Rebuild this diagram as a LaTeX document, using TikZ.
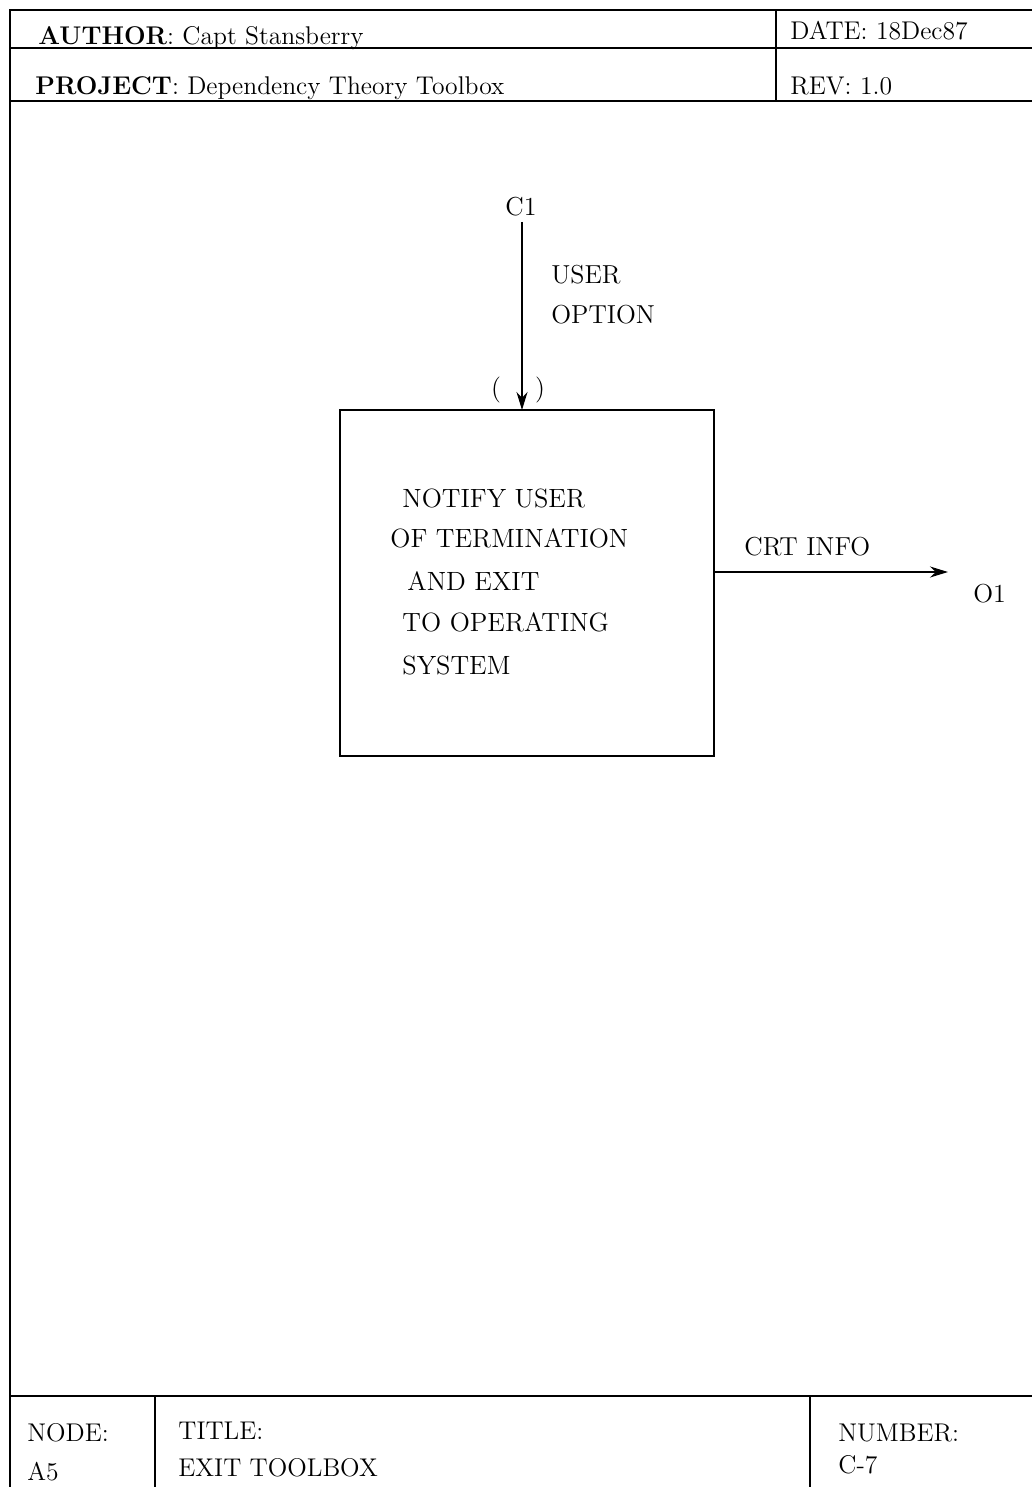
\documentclass[tikz,border=0pt]{standalone}
\usetikzlibrary{arrows.meta}
\begin{document}
\begin{tikzpicture}[x=0.5pt,y=-0.5pt,
  frame/.style={line width=1.1pt},
  hdr/.style={anchor=base west,inner sep=0pt,font=\fontsize{12.8}{14}\selectfont},
  lbl/.style={anchor=base west,inner sep=0pt,font=\fontsize{13}{15}\selectfont},
  boxtxt/.style={anchor=base west,inner sep=0pt,font=\fontsize{13.2}{15}\selectfont},
  flow/.style={line width=0.9pt,-{Stealth[length=9pt,width=5.5pt]}},
  actbox/.style={draw,line width=1.1pt,minimum width=187pt,minimum height=173pt,inner sep=0pt}]
\useasboundingbox (0,0) rectangle (1032,1487);

% sheet frame and header
\draw[frame] (1032,10) -- (10,10) -- (10,1487);
\draw[frame] (10,48) -- (1032,48);
\draw[frame] (10,101) -- (1032,101);
\draw[frame] (776,10) -- (776,101);
\node[hdr] (author) at (38,45) {\textbf{AUTHOR}: Capt Stansberry};
\node[hdr] (date) at (790,40) {DATE: 18Dec87};
\node[hdr] (project) at (35,95) {\textbf{PROJECT}: Dependency Theory Toolbox};
\node[hdr] (rev) at (790,95) {REV: 1.0};

% footer
\draw[frame] (10,1396) -- (1032,1396);
\draw[frame] (155,1396) -- (155,1487);
\draw[frame] (810,1396) -- (810,1487);
\node[hdr] (nodelbl) at (27,1441) {NODE:};
\node[hdr] (nodeval) at (27,1480) {A5};
\node[hdr] (titlelbl) at (178,1439) {TITLE:};
\node[hdr] (titleval) at (178,1476) {EXIT TOOLBOX};
\node[hdr] (numlbl) at (838,1441) {NUMBER:};
\node[hdr] (numval) at (838,1473) {C-7};

% activity box
\node[actbox] (act) at (527,583) {};
\node[boxtxt] (t1) at (402,507) {NOTIFY USER};
\node[boxtxt] (t2) at (390,547) {OF TERMINATION};
\node[boxtxt] (t3) at (407,590) {AND EXIT};
\node[boxtxt] (t4) at (402,631) {TO OPERATING};
\node[boxtxt] (t5) at (402,674) {SYSTEM};

% control arrow
\node[lbl,anchor=base] (c1) at (521,216) {C1};
\coordinate (ctop) at (522,222);
\coordinate (cin) at (522,410);
\draw[flow] (ctop) -- (cin);
\node[lbl] (uo1) at (551,284) {USER};
\node[lbl] (uo2) at (551,323) {OPTION};
\node[lbl,anchor=base] (pl) at (496,396) {(};
\node[lbl,anchor=base] (pr) at (540,396) {)};

% output arrow
\coordinate (oout) at (714,572);
\coordinate (oend) at (948,572);
\draw[flow] (oout) -- (oend);
\node[lbl] (crt) at (744,555) {CRT INFO};
\node[lbl] (o1) at (973,602) {O1};
\end{tikzpicture}
\end{document}
